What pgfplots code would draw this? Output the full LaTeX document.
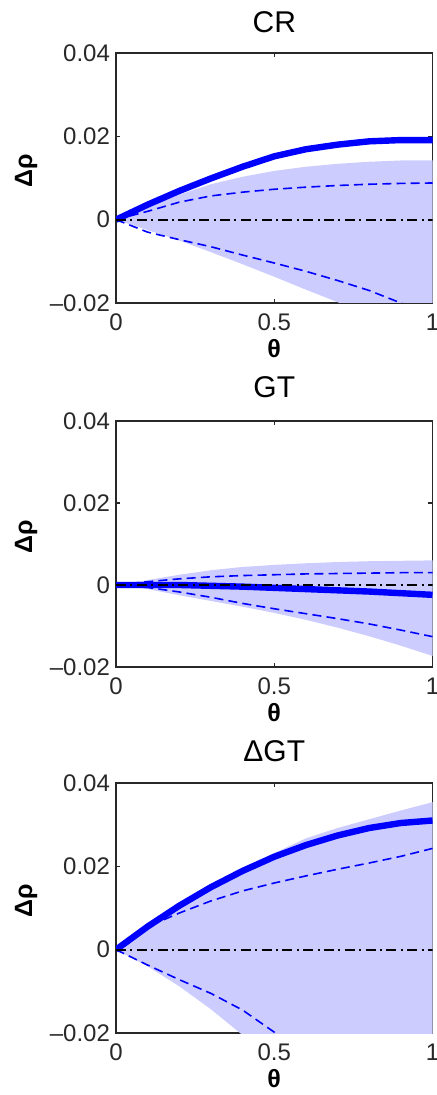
\documentclass[border=0pt]{standalone}
\usepackage{fontspec}
\setmainfont{Liberation Sans}
\usepackage{pgfplots}
\pgfplotsset{compat=1.18}
\usepgfplotslibrary{fillbetween}

\definecolor{band}{RGB}{204,204,255}
\definecolor{axgray}{RGB}{40,40,40}

\pgfplotsset{
  panel/.style={
    scale only axis, width=158.25pt, height=125pt,
    anchor=north west,
    xmin=0, xmax=1, ymin=-0.02, ymax=0.04,
    scaled x ticks=false, scaled y ticks=false,
    xtick={0,0.5,1}, xticklabels={0,0.5,1},
    ytick={-0.02,0,0.02,0.04},
    yticklabels={\textendash0.02,0,0.02,0.04},
    tick align=inside, major tick length=2.2pt,
    tick style={axgray, line width=0.6pt},
    axis line style={axgray, line width=0.75pt},
    ticklabel style={font=\fontsize{12}{14}\selectfont, text=axgray},
    xticklabel style={yshift=-2pt},
    yticklabel style={xshift=0.5pt},
    xlabel={\bfseries θ}, ylabel={\bfseries Δρ},
    xlabel style={font=\fontsize{12.5}{14}\selectfont, at={(axis description cs:0.5,-0.184)}, anchor=center},
    ylabel style={font=\fontsize{12.5}{14}\selectfont, at={(axis description cs:-0.284,0.53)}, anchor=center},
    title style={font=\fontsize{15}{17}\selectfont, at={(axis description cs:0.5,1.12)}, anchor=center, yshift=-5.5pt},
  },
  thickline/.style={blue, line width=3.2pt},
  dashline/.style={blue, line width=0.8pt, dash pattern=on 4.5pt off 2.6pt},
  zeroline/.style={black, line width=0.85pt, dash pattern=on 5pt off 2.2pt on 1pt off 2.2pt},
}

\begin{document}
\begin{tikzpicture}

% ---- CR ----
\begin{axis}[panel, at={(58pt,-26.5pt)}, title={CR}]
\addplot[name path=u1, draw=none] coordinates {
 (0,0)(0.1,0.003)(0.2,0.006)(0.3,0.0085)(0.4,0.0103)(0.5,0.0117)(0.6,0.0127)(0.7,0.0134)(0.8,0.0139)(0.9,0.0142)(1,0.0142)};
\addplot[name path=l1, draw=none] coordinates {
 (0,0)(0.1,-0.0025)(0.2,-0.005)(0.3,-0.0078)(0.4,-0.0107)(0.5,-0.0137)(0.6,-0.0168)(0.7,-0.0198)(0.8,-0.023)(0.9,-0.026)(1,-0.029)};
\addplot[band, draw=none] fill between[of=u1 and l1];
\addplot[thickline] coordinates {
 (0,0)(0.1,0.0036)(0.2,0.0069)(0.3,0.0099)(0.4,0.0127)(0.5,0.0152)(0.6,0.0169)(0.7,0.018)(0.8,0.0188)(0.9,0.0191)(1,0.0191)};
\addplot[dashline] coordinates {
 (0,0)(0.1,0.002)(0.2,0.0042)(0.3,0.0057)(0.4,0.0066)(0.5,0.0073)(0.6,0.0078)(0.7,0.0082)(0.8,0.0085)(0.9,0.0087)(1,0.0088)};
\addplot[dashline] coordinates {
 (0,0)(0.05,-0.0015)(0.1,-0.003)(0.2,-0.0048)(0.3,-0.0065)(0.4,-0.0085)(0.5,-0.0104)(0.6,-0.0124)(0.7,-0.0146)(0.8,-0.017)(0.9,-0.02)(1,-0.023)};
\addplot[zeroline] coordinates {(0,0)(1,0)};
\end{axis}

% ---- GT ----
\begin{axis}[panel, at={(58pt,-210.5pt)}, height=123pt, title={GT},
  title style={at={(axis description cs:0.5,1.134)}}]
\addplot[name path=u2, draw=none] coordinates {
 (0,0)(0.1,0.0012)(0.2,0.0025)(0.3,0.0036)(0.4,0.0044)(0.5,0.0049)(0.6,0.0053)(0.7,0.0056)(0.8,0.0058)(0.9,0.0059)(1,0.006)};
\addplot[name path=l2, draw=none] coordinates {
 (0,0)(0.1,-0.001)(0.2,-0.0025)(0.3,-0.0039)(0.4,-0.0053)(0.5,-0.0068)(0.6,-0.0085)(0.7,-0.0104)(0.8,-0.0125)(0.9,-0.0148)(1,-0.0173)};
\addplot[band, draw=none] fill between[of=u2 and l2];
\addplot[thickline] coordinates {
 (0,0)(0.2,0)(0.3,-0.0002)(0.4,-0.0004)(0.5,-0.0007)(0.6,-0.001)(0.7,-0.0013)(0.8,-0.0016)(0.9,-0.002)(1,-0.0024)};
\addplot[dashline] coordinates {
 (0,0)(0.1,0.0008)(0.2,0.0015)(0.3,0.002)(0.4,0.0023)(0.5,0.0025)(0.6,0.0027)(0.7,0.0028)(0.8,0.0029)(0.9,0.003)(1,0.003)};
\addplot[dashline] coordinates {
 (0,0)(0.1,-0.0006)(0.2,-0.0017)(0.3,-0.003)(0.4,-0.0045)(0.5,-0.0058)(0.6,-0.007)(0.7,-0.0082)(0.8,-0.0095)(0.9,-0.011)(1,-0.0126)};
\addplot[zeroline] coordinates {(0,0)(1,0)};
\end{axis}

% ---- Delta GT ----
\begin{axis}[panel, at={(58pt,-391.5pt)}, title={ΔGT},
  title style={at={(axis description cs:0.5,1.122)}}]
\addplot[name path=u3, draw=none] coordinates {
 (0,0)(0.1,0.0055)(0.2,0.0106)(0.3,0.0152)(0.4,0.0194)(0.5,0.0232)(0.6,0.0267)(0.7,0.0292)(0.8,0.0313)(0.9,0.0334)(1,0.0354)};
\addplot[name path=l3, draw=none] coordinates {
 (0,0)(0.1,-0.004)(0.2,-0.0088)(0.3,-0.0143)(0.4,-0.0205)(0.5,-0.027)(0.6,-0.034)(0.7,-0.041)(0.8,-0.048)(0.9,-0.055)(1,-0.062)};
\addplot[band, draw=none] fill between[of=u3 and l3];
\addplot[thickline] coordinates {
 (0,0)(0.1,0.00555)(0.2,0.01055)(0.3,0.015)(0.4,0.0189)(0.5,0.0223)(0.6,0.0251)(0.7,0.0274)(0.8,0.0292)(0.9,0.0304)(1,0.031)};
\addplot[dashline] coordinates {
 (0,0)(0.1,0.0055)(0.2,0.0088)(0.3,0.0117)(0.4,0.0141)(0.5,0.016)(0.6,0.0177)(0.7,0.0193)(0.8,0.0208)(0.9,0.0224)(1,0.0243)};
\addplot[dashline] coordinates {
 (0,0)(0.1,-0.0037)(0.2,-0.0072)(0.3,-0.0105)(0.4,-0.0145)(0.5,-0.0198)(0.6,-0.026)};
\addplot[zeroline] coordinates {(0,0)(1,0)};
\end{axis}

\pgfresetboundingbox
\path[use as bounding box] (0,0) rectangle (218.5pt,-547.5pt);
\end{tikzpicture}
\end{document}
